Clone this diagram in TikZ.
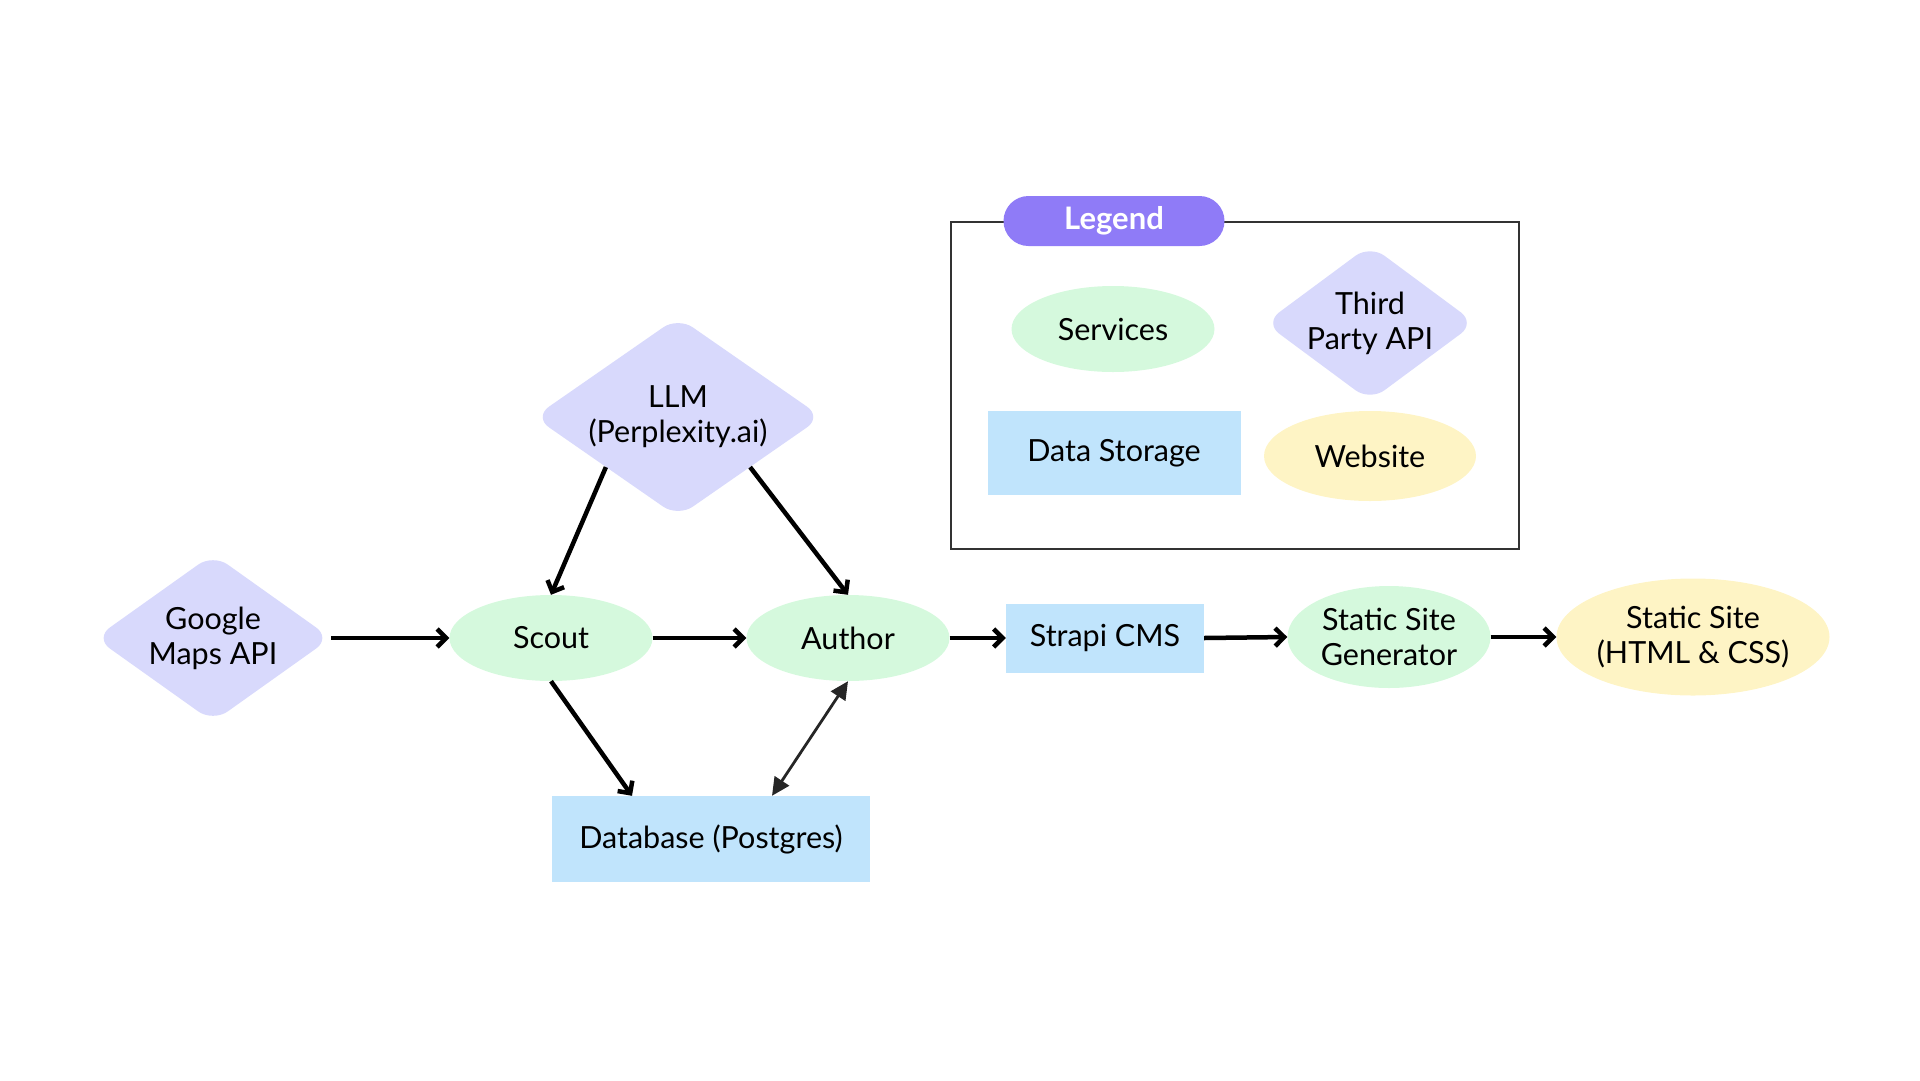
\documentclass[tikz,border=0pt]{standalone}
\usepackage{fontspec}
\setmainfont{Lato}
\usetikzlibrary{arrows.meta,shapes.geometric}

\definecolor{apicol}{HTML}{D8D9FC}
\definecolor{servcol}{HTML}{D5F9DD}
\definecolor{storecol}{HTML}{C0E4FC}
\definecolor{webcol}{HTML}{FEF4C5}
\definecolor{legcol}{HTML}{8F7BF7}

\begin{document}
\begin{tikzpicture}[x=1pt,y=-1pt,>={Straight Barb[length=9pt,width=18pt]},
		font=\fontsize{30.5}{35}\selectfont,
		flow/.style={->,line width=4.5pt},
		both/.style={{Triangle[length=18pt,width=17pt]}-{Triangle[length=18pt,width=17pt]},line width=2.8pt,draw=black!85,fill=black!85},
		api node/.style={diamond,aspect=1.35,fill=apicol,rounded corners=18pt,align=center,inner sep=0pt},
		service node/.style={ellipse,fill=servcol,align=center,inner sep=0pt,minimum width=203pt,minimum height=86pt},
		store node/.style={rectangle,fill=storecol,align=center,inner sep=0pt},
		web node/.style={ellipse,fill=webcol,align=center,inner sep=0pt}]
		\useasboundingbox (0,0) rectangle (1920,1080);

		\node[api node,minimum width=236pt,minimum height=168pt] (gmaps) at (213,638) {Google\\Maps API};
		\node[api node,minimum width=288pt,minimum height=200pt] (llm) at (678,417) {LLM\\(Perplexity.ai)};
		\node[service node] (scout) at (551,638) {Scout};
		\node[service node] (author) at (848,638) {Author};
		\node[store node,minimum width=318pt,minimum height=86pt] (db) at (711,839) {Database (Postgres)};
		\node[store node,minimum width=198pt,minimum height=69pt] (strapi) at (1105,638) {Strapi CMS};
		\node[service node,minimum height=102pt] (ssg) at (1389,637) {Static Site\\Generator};
		\node[web node,minimum width=273pt,minimum height=117pt] (site) at (1693,637) {Static Site\\(HTML \& CSS)};

		% legend
		\node[draw=black!80,line width=2pt,minimum width=568pt,minimum height=327pt] (legbox) at (1235,385) {};
		\node[fill=legcol,text=white,rounded corners=25pt,minimum width=221pt,minimum height=50pt,font=\fontsize{31}{35}\selectfont\bfseries] (legend) at (1114,221) {Legend};
		\node[service node] (services) at (1113,329) {Services};
		\node[api node,minimum width=206pt,minimum height=142pt] (thirdapi) at (1370,323) {Third\\Party API};
		\node[store node,minimum width=253pt,minimum height=84pt] (storage) at (1114,453) {Data Storage};
		\node[web node,minimum width=212pt,minimum height=90pt] (website) at (1370,456) {Website};

		\path
		(gmaps.east) edge [flow] (scout.west)
		(scout.east) edge [flow] (author.west)
		(author.east) edge [flow] (strapi.west)
		(strapi.east) edge [flow] (ssg.west)
		(ssg.east) edge [flow] (site.west);
		\path
		(llm.south west) edge [flow] (scout.north)
		(llm.south east) edge [flow] (author.north);
		\path
		(scout.south) edge [flow] ([xshift=-79pt]db.north)
		(author.south) edge [both] ([xshift=61pt]db.north);

\end{tikzpicture}
\end{document}
